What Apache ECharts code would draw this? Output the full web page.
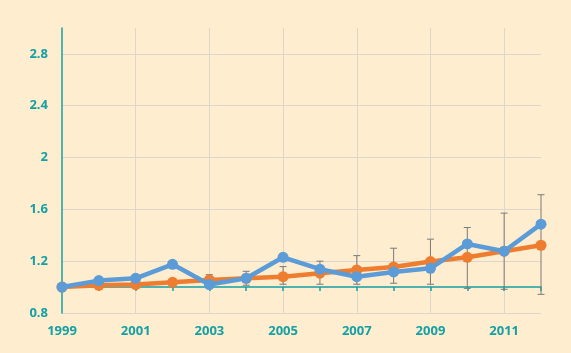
<!DOCTYPE html>
<html lang="en">
  <head>
    <meta charset="UTF-8" />
    <title>Index</title>
    <script src="https://cdn.jsdelivr.net/npm/echarts@6/dist/echarts.min.js"></script>
    <style>
      html, body { margin: 0; padding: 0; background: #feedcf; }
      #main { width: 571px; height: 353px; }
    </style>
  </head>
  <body>
    <div id="main"></div>
    <script>
      const years = [1999, 2000, 2001, 2002, 2003, 2004, 2005, 2006, 2007, 2008, 2009, 2010, 2011, 2012];
      const blueValues = [1.0, 1.05, 1.068, 1.176, 1.02, 1.068, 1.23, 1.138, 1.08, 1.117, 1.145, 1.333, 1.277, 1.486];
      const orangeValues = [1.0, 1.014, 1.02, 1.037, 1.055, 1.068, 1.08, 1.107, 1.132, 1.155, 1.197, 1.23, 1.277, 1.323];
      const errLow = [1.0, 1.003, 1.0, 1.009, 1.009, 1.014, 1.022, 1.022, 1.022, 1.03, 1.022, 0.99, 0.983, 0.944];
      const errHigh = [1.0, 1.025, 1.04, 1.065, 1.096, 1.122, 1.158, 1.2, 1.243, 1.3, 1.37, 1.46, 1.571, 1.713];

      const teal = "#14a0a4";
      const labelFont = { color: teal, fontFamily: "Open Sans", fontWeight: "bold", fontSize: 13 };

      const chart = echarts.init(document.getElementById("main"));

      const option = {
        backgroundColor: "#feedcf",
        animation: false,
        grid: [
          { left: 62, right: 30, top: 28, bottom: 40 },
          // helper grid whose bottom edge sits on the 1.0 line
          { left: 62, right: 30, top: 28, bottom: 66 },
        ],
        xAxis: [
          {
            type: "value",
            min: 1999,
            max: 2012,
            interval: 2,
            axisLine: { show: false },
            axisTick: { show: false },
            axisLabel: Object.assign({ margin: 12, showMaxLabel: false, formatter: (v) => String(v) }, labelFont),
            splitLine: { show: true, showMinLine: false, showMaxLine: false, lineStyle: { color: "#dcd6cc", width: 1 } },
          },
          {
            type: "value",
            gridIndex: 1,
            min: 1999,
            max: 2012,
            interval: 1,
            z: 1,
            axisLine: { show: true, lineStyle: { color: teal, width: 1.5 } },
            axisTick: { show: true, length: 4, lineStyle: { color: teal, width: 1.5 } },
            axisLabel: { show: false },
            splitLine: { show: false },
          },
        ],
        yAxis: [
          {
            type: "value",
            min: 0.8,
            max: 3.0,
            interval: 0.4,
            axisLine: { show: true, lineStyle: { color: teal, width: 1.5 } },
            axisTick: { show: false },
            axisLabel: Object.assign({ margin: 14, showMaxLabel: false }, labelFont),
            splitLine: { show: true, showMaxLine: false, lineStyle: { color: "#dcd6cc", width: 1 } },
          },
          {
            type: "value",
            gridIndex: 1,
            min: 0,
            max: 1,
            show: false,
          },
        ],
        series: [
          {
            type: "custom",
            name: "error",
            z: 2,
            data: years.map((y, i) => [y, errLow[i], errHigh[i]]),
            renderItem: function (params, api) {
              const lo = api.coord([api.value(0), api.value(1)]);
              const hi = api.coord([api.value(0), api.value(2)]);
              const w = 3.5;
              const style = { stroke: "#7b7b7b", lineWidth: 1 };
              return {
                type: "group",
                children: [
                  { type: "line", shape: { x1: hi[0], y1: hi[1], x2: lo[0], y2: lo[1] }, style: style },
                  { type: "line", shape: { x1: hi[0] - w, y1: hi[1], x2: hi[0] + w, y2: hi[1] }, style: style },
                  { type: "line", shape: { x1: lo[0] - w, y1: lo[1], x2: lo[0] + w, y2: lo[1] }, style: style },
                ],
              };
            },
          },
          {
            type: "line",
            name: "orange",
            z: 3,
            data: years.map((y, i) => [y, orangeValues[i]]),
            symbol: "circle",
            symbolSize: 11,
            itemStyle: { color: "#ee7d30" },
            lineStyle: { color: "#ee7d30", width: 4.5 },
          },
          {
            type: "line",
            name: "blue",
            z: 4,
            data: years.map((y, i) => [y, blueValues[i]]),
            symbol: "circle",
            symbolSize: 11,
            itemStyle: { color: "#5b9bd7" },
            lineStyle: { color: "#5b9bd7", width: 4.5 },
          },
        ],
      };

      chart.setOption(option);
    </script>
  </body>
</html>
